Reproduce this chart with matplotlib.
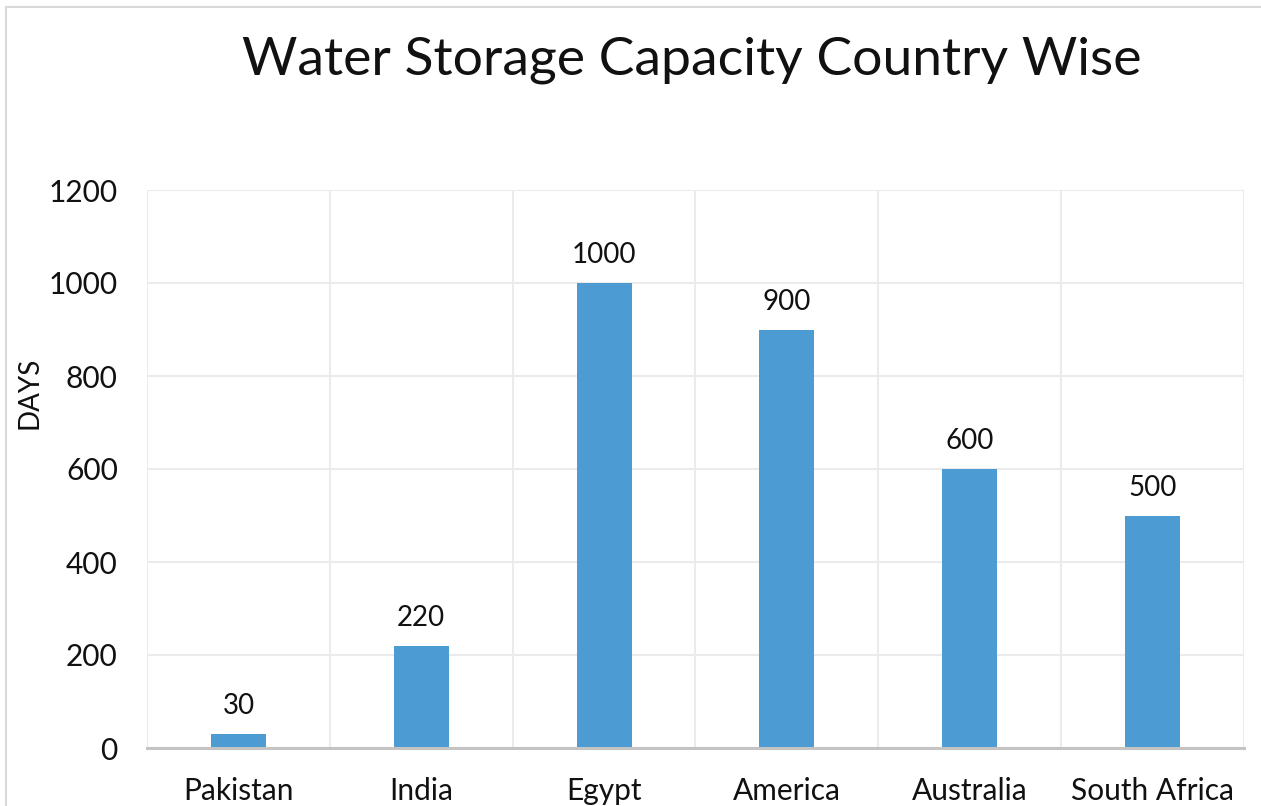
import matplotlib.pyplot as plt
from matplotlib.patches import Rectangle

countries = ["Pakistan", "India", "Egypt", "America", "Australia", "South Africa"]
days = [30, 220, 1000, 900, 600, 500]
y_ticks = [0, 200, 400, 600, 800, 1000, 1200]

plt.rcParams['font.family'] = ['Lato', 'DejaVu Sans']

W, H = 1261, 806
fig = plt.figure(figsize=(W / 100, H / 100), dpi=100)

# plot area in pixels: left 147, right 1244, top 190, bottom 748
ax = fig.add_axes([147 / W, 1 - 748 / H, (1244 - 147) / W, (748 - 190) / H])

x = list(range(len(countries)))
bars = ax.bar(x, days, width=0.3, color="#4c9bd3", zorder=3)
for xi, v in zip(x, days):
    ax.text(xi, v + 32, str(v), ha="center", va="bottom", fontsize=20, color="#111111")

ax.set_xlim(-0.5, len(countries) - 0.5)
ax.set_ylim(0, 1200)
ax.set_yticks(y_ticks)
ax.set_yticklabels([str(t) for t in y_ticks], fontsize=21.5)
ax.set_xticks(x)
ax.set_xticklabels(countries, fontsize=21.5)
ax.tick_params(axis="both", length=0, colors="#111111")
ax.tick_params(axis="y", pad=21)
ax.tick_params(axis="x", pad=21)

# horizontal gridlines and vertical category separators
for t in y_ticks[1:]:
    ax.axhline(t, color="#ebebeb", lw=1.5, zorder=1)
for b in [i - 0.5 for i in range(len(countries) + 1)]:
    ax.axvline(b, color="#ebebeb", lw=1.5, zorder=1)

for side in ["top", "right", "left"]:
    ax.spines[side].set_visible(False)
ax.spines["bottom"].set_color("#c4c4c4")
ax.spines["bottom"].set_linewidth(2.2)
ax.spines["bottom"].set_zorder(4)

ax.set_ylabel("DAYS", fontsize=20, color="#111111", labelpad=0)
ax.yaxis.set_label_coords(-104 / (1244 - 147), (748 - 393) / (748 - 190))

fig.text(692 / W, 1 - 60 / H, "Water Storage Capacity Country Wise",
         ha="center", va="center", fontsize=38.5, fontweight="normal", color="#111111")

# chart frame
fig.patches.append(Rectangle((6 / W, -0.1), 1.2, 1 - 7 / H + 0.1,
                             transform=fig.transFigure, fill=False,
                             edgecolor="#d9d9d9", lw=1.5))

fig.savefig("out.png", dpi=100)
